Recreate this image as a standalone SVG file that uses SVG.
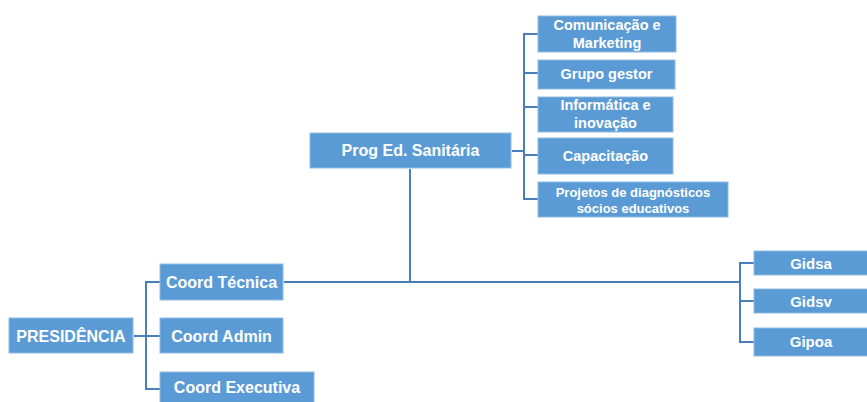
<svg xmlns="http://www.w3.org/2000/svg" width="867" height="402" viewBox="0 0 867 402">
  <style>
    .box { fill: #5b9bd5; stroke: #8dbbe6; stroke-width: 1; }
    .lbl { fill: #ffffff; font-family: "Liberation Sans", Arial, sans-serif; font-weight: bold; text-anchor: middle; }
    .l16 { font-size: 16px; }
    .l15 { font-size: 15px; }
    .l14 { font-size: 14.5px; }
    .l13 { font-size: 13px; }
    .conn { fill: none; stroke: #4a7ebb; stroke-width: 2; }
  </style>
  <rect width="867" height="402" fill="#ffffff"/>

  <!-- connectors -->
  <g id="connectors">
    <!-- Presidência to coordinations -->
    <path class="conn" d="M134 336 H146 M160 282 H146 V389 H160 M146 336 H160"/>
    <!-- Coord Técnica trunk -->
    <path class="conn" d="M284 282 H740"/>
    <!-- trunk up to Prog Ed. Sanitária -->
    <path class="conn" d="M410 169 V282"/>
    <!-- Gerências bracket -->
    <path class="conn" d="M754 263 H740 V342 H754 M740 301 H754"/>
    <!-- Prog Ed. Sanitária bracket -->
    <path class="conn" d="M512 151 H524 M538 34 H524 V199 H538 M524 73 H538 M524 107 H538 M524 155 H538"/>
  </g>

  <g id="presidencia">
    <rect class="box" x="9" y="318" width="124" height="35"/>
    <text class="lbl l16" x="71" y="341.5">PRESIDÊNCIA</text>
  </g>
  <g id="coord-tecnica">
    <rect class="box" x="160" y="264" width="123" height="36"/>
    <text class="lbl l16" x="221.5" y="287.5">Coord Técnica</text>
  </g>
  <g id="coord-admin">
    <rect class="box" x="160" y="318" width="123" height="35"/>
    <text class="lbl l16" x="221.5" y="341.5">Coord Admin</text>
  </g>
  <g id="coord-executiva">
    <rect class="box" x="160" y="372" width="154" height="36"/>
    <text class="lbl l16" x="237" y="393">Coord Executiva</text>
  </g>
  <g id="prog-ed-sanitaria">
    <rect class="box" x="310" y="133" width="201" height="35"/>
    <text class="lbl l16" x="410.5" y="156">Prog Ed. Sanitária</text>
  </g>
  <g id="comunicacao">
    <rect class="box" x="538" y="16" width="138" height="36"/>
    <text class="lbl l14" x="607" y="30">Comunicação e</text>
    <text class="lbl l14" x="607" y="48">Marketing</text>
  </g>
  <g id="grupo-gestor">
    <rect class="box" x="538" y="60" width="137" height="29"/>
    <text class="lbl l14" x="606.5" y="79">Grupo gestor</text>
  </g>
  <g id="informatica">
    <rect class="box" x="538" y="97" width="135" height="35"/>
    <text class="lbl l14" x="605.5" y="110">Informática e</text>
    <text class="lbl l14" x="605.5" y="128">inovação</text>
  </g>
  <g id="capacitacao">
    <rect class="box" x="538" y="138" width="135" height="36"/>
    <text class="lbl l14" x="605.5" y="160.5">Capacitação</text>
  </g>
  <g id="projetos">
    <rect class="box" x="538" y="182" width="190" height="35"/>
    <text class="lbl l13" x="633" y="196.5">Projetos de diagnósticos</text>
    <text class="lbl l13" x="633" y="212.5">sócios educativos</text>
  </g>
  <g id="gidsa">
    <rect class="box" x="754" y="251" width="115" height="24"/>
    <text class="lbl l15" x="811" y="268.5">Gidsa</text>
  </g>
  <g id="gidsv">
    <rect class="box" x="754" y="289" width="115" height="24"/>
    <text class="lbl l15" x="811" y="306.5">Gidsv</text>
  </g>
  <g id="gipoa">
    <rect class="box" x="754" y="328" width="115" height="28"/>
    <text class="lbl l15" x="811" y="347">Gipoa</text>
  </g>
</svg>
